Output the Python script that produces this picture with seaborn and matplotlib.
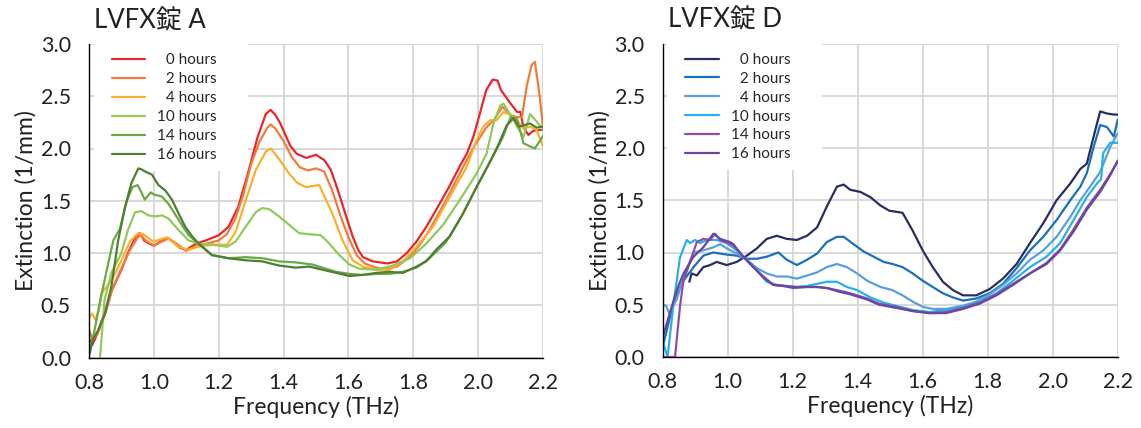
import numpy as np
import pandas as pd
import matplotlib
matplotlib.use("Agg")
import matplotlib.pyplot as plt
from matplotlib.ticker import MultipleLocator, FormatStrFormatter
from matplotlib.patches import Rectangle
import seaborn as sns

# ---- LVFX tablet A ----
A_0h_f = [0.80, 0.81, 0.825, 0.85, 0.87, 0.90, 0.92, 0.945, 0.958, 0.97, 0.985, 1.0, 1.02, 1.045, 1.065, 1.08, 1.10, 1.13, 1.16, 1.20, 1.23, 1.26, 1.29, 1.32, 1.345, 1.36, 1.375, 1.39, 1.42, 1.44, 1.47, 1.50, 1.525, 1.545, 1.56, 1.58, 1.595, 1.613, 1.63, 1.645, 1.675, 1.72, 1.75, 1.78, 1.81, 1.84, 1.87, 1.91, 1.945, 1.965, 1.985, 2.005, 2.025, 2.045, 2.06, 2.07, 2.10, 2.12, 2.13, 2.14, 2.155, 2.17, 2.20]
A_0h_e = [0.18, 0.12, 0.22, 0.42, 0.64, 0.84, 1.0, 1.16, 1.19, 1.12, 1.09, 1.07, 1.11, 1.14, 1.09, 1.05, 1.03, 1.09, 1.12, 1.17, 1.25, 1.44, 1.76, 2.11, 2.33, 2.37, 2.32, 2.24, 2.03, 1.95, 1.91, 1.94, 1.89, 1.80, 1.67, 1.48, 1.33, 1.16, 1.03, 0.96, 0.92, 0.90, 0.92, 1.0, 1.11, 1.25, 1.41, 1.63, 1.84, 1.95, 2.11, 2.33, 2.56, 2.66, 2.65, 2.56, 2.43, 2.35, 2.35, 2.2, 2.13, 2.17, 2.18]

A_2h_f = [0.80, 0.81, 0.825, 0.85, 0.875, 0.90, 0.925, 0.95, 0.96, 0.975, 1.0, 1.025, 1.045, 1.07, 1.10, 1.125, 1.15, 1.20, 1.225, 1.25, 1.275, 1.30, 1.325, 1.35, 1.36, 1.375, 1.40, 1.425, 1.45, 1.475, 1.50, 1.525, 1.55, 1.575, 1.60, 1.625, 1.65, 1.675, 1.70, 1.725, 1.75, 1.775, 1.80, 1.825, 1.85, 1.875, 1.90, 1.925, 1.95, 1.975, 2.0, 2.025, 2.05, 2.075, 2.10, 2.12, 2.135, 2.15, 2.165, 2.175, 2.19, 2.20]
A_2h_e = [0.27, 0.17, 0.22, 0.45, 0.68, 0.85, 1.02, 1.15, 1.17, 1.12, 1.07, 1.11, 1.14, 1.09, 1.02, 1.06, 1.08, 1.12, 1.18, 1.32, 1.55, 1.85, 2.06, 2.2, 2.23, 2.19, 2.07, 1.92, 1.82, 1.79, 1.81, 1.78, 1.6, 1.36, 1.15, 0.98, 0.9, 0.87, 0.85, 0.85, 0.87, 0.93, 1.0, 1.1, 1.22, 1.36, 1.5, 1.65, 1.8, 1.95, 2.08, 2.2, 2.28, 2.4, 2.32, 2.3, 2.3, 2.6, 2.8, 2.83, 2.5, 2.2]

A_4h_f = [0.80, 0.81, 0.82, 0.83, 0.838, 0.87, 0.90, 0.926, 0.952, 0.967, 0.998, 1.02, 1.04, 1.076, 1.107, 1.138, 1.179, 1.226, 1.252, 1.283, 1.314, 1.345, 1.36, 1.386, 1.417, 1.443, 1.469, 1.51, 1.55, 1.582, 1.613, 1.644, 1.686, 1.727, 1.768, 1.81, 1.861, 1.913, 1.964, 1.995, 2.016, 2.037, 2.057, 2.078, 2.10, 2.12, 2.14, 2.16, 2.18, 2.20]
A_4h_e = [0.38, 0.42, 0.36, 0.45, 0.61, 0.74, 0.93, 1.11, 1.19, 1.18, 1.11, 1.13, 1.15, 1.06, 1.03, 1.06, 1.08, 1.08, 1.2, 1.5, 1.79, 1.97, 2.0, 1.9, 1.76, 1.67, 1.63, 1.65, 1.38, 1.12, 0.93, 0.87, 0.84, 0.84, 0.92, 1.06, 1.25, 1.54, 1.82, 2.08, 2.21, 2.27, 2.27, 2.35, 2.32, 2.27, 2.19, 2.21, 2.18, 2.02]

A_10h_f = [0.80, 0.834, 0.848, 0.869, 0.90, 0.92, 0.942, 0.962, 0.983, 1.004, 1.025, 1.045, 1.076, 1.107, 1.138, 1.179, 1.226, 1.252, 1.283, 1.314, 1.334, 1.355, 1.386, 1.417, 1.448, 1.479, 1.515, 1.541, 1.572, 1.603, 1.634, 1.686, 1.737, 1.79, 1.84, 1.892, 1.944, 1.995, 2.026, 2.047, 2.068, 2.078, 2.10, 2.12, 2.14, 2.16, 2.18, 2.20]
A_10h_e = [-0.6, 0.0, 0.55, 0.81, 1.0, 1.22, 1.39, 1.40, 1.36, 1.35, 1.36, 1.33, 1.22, 1.12, 1.09, 1.08, 1.06, 1.11, 1.25, 1.39, 1.43, 1.42, 1.35, 1.27, 1.19, 1.18, 1.17, 1.09, 0.98, 0.89, 0.85, 0.84, 0.88, 0.95, 1.09, 1.27, 1.51, 1.76, 1.95, 2.24, 2.41, 2.43, 2.32, 2.21, 2.11, 2.33, 2.26, 2.18]

A_14h_f = [0.80, 0.815, 0.835, 0.855, 0.875, 0.895, 0.917, 0.934, 0.95, 0.96, 0.972, 0.99, 1.0, 1.025, 1.045, 1.076, 1.107, 1.138, 1.179, 1.23, 1.283, 1.334, 1.386, 1.437, 1.489, 1.52, 1.562, 1.603, 1.644, 1.686, 1.727, 1.768, 1.81, 1.85, 1.90, 1.95, 2.0, 2.05, 2.075, 2.10, 2.12, 2.14, 2.16, 2.175, 2.20]
A_14h_e = [0.07, 0.23, 0.55, 0.84, 1.12, 1.23, 1.5, 1.63, 1.65, 1.59, 1.51, 1.58, 1.56, 1.54, 1.47, 1.32, 1.17, 1.09, 0.98, 0.95, 0.96, 0.95, 0.92, 0.91, 0.89, 0.86, 0.82, 0.8, 0.79, 0.8, 0.8, 0.82, 0.86, 0.95, 1.1, 1.36, 1.66, 1.95, 2.1, 2.3, 2.28, 2.05, 2.02, 2.0, 2.12]

A_16h_f = [0.80, 0.812, 0.828, 0.849, 0.869, 0.89, 0.911, 0.931, 0.952, 0.962, 0.973, 0.994, 1.014, 1.035, 1.056, 1.076, 1.097, 1.118, 1.138, 1.179, 1.23, 1.283, 1.334, 1.386, 1.437, 1.479, 1.52, 1.562, 1.603, 1.644, 1.686, 1.727, 1.768, 1.81, 1.84, 1.87, 1.913, 1.954, 1.995, 2.026, 2.057, 2.088, 2.109, 2.125, 2.14, 2.16, 2.18, 2.20]
A_16h_e = [0.01, 0.17, 0.26, 0.42, 0.68, 1.12, 1.44, 1.67, 1.81, 1.80, 1.78, 1.75, 1.65, 1.6, 1.51, 1.38, 1.25, 1.16, 1.09, 0.98, 0.95, 0.93, 0.92, 0.88, 0.86, 0.87, 0.84, 0.81, 0.78, 0.79, 0.81, 0.82, 0.81, 0.87, 0.92, 1.03, 1.16, 1.38, 1.63, 1.81, 2.0, 2.22, 2.29, 2.21, 2.22, 2.24, 2.2, 2.21]

# ---- LVFX tablet D ----
D_0h_f = [0.882, 0.889, 0.905, 0.925, 0.946, 0.966, 0.997, 1.028, 1.059, 1.09, 1.12, 1.151, 1.182, 1.213, 1.244, 1.275, 1.305, 1.336, 1.357, 1.377, 1.408, 1.439, 1.47, 1.497, 1.538, 1.569, 1.60, 1.631, 1.662, 1.693, 1.724, 1.765, 1.806, 1.847, 1.889, 1.93, 1.971, 2.012, 2.054, 2.085, 2.105, 2.126, 2.146, 2.167, 2.188, 2.20]
D_0h_e = [0.72, 0.80, 0.78, 0.86, 0.88, 0.91, 0.88, 0.91, 0.97, 1.04, 1.13, 1.16, 1.13, 1.12, 1.16, 1.24, 1.44, 1.63, 1.65, 1.6, 1.58, 1.53, 1.45, 1.4, 1.38, 1.21, 1.02, 0.86, 0.72, 0.64, 0.59, 0.59, 0.65, 0.75, 0.89, 1.09, 1.28, 1.5, 1.66, 1.8, 1.85, 2.11, 2.35, 2.33, 2.32, 2.32]

D_2h_f = [0.80, 0.82, 0.84, 0.864, 0.895, 0.925, 0.956, 0.997, 1.028, 1.059, 1.09, 1.12, 1.156, 1.182, 1.213, 1.244, 1.275, 1.305, 1.336, 1.357, 1.387, 1.418, 1.449, 1.48, 1.507, 1.538, 1.569, 1.60, 1.631, 1.662, 1.693, 1.724, 1.765, 1.806, 1.847, 1.889, 1.93, 1.971, 2.012, 2.054, 2.085, 2.105, 2.126, 2.146, 2.167, 2.188, 2.20]
D_2h_e = [0.1, 0.35, 0.58, 0.73, 0.86, 0.97, 1.0, 0.98, 0.97, 0.94, 0.94, 0.96, 1.0, 0.93, 0.88, 0.93, 0.99, 1.1, 1.15, 1.15, 1.08, 1.01, 0.96, 0.91, 0.89, 0.86, 0.8, 0.73, 0.67, 0.61, 0.57, 0.54, 0.56, 0.61, 0.7, 0.85, 1.02, 1.15, 1.31, 1.5, 1.63, 1.76, 2.01, 2.22, 2.2, 2.11, 2.27]

D_4h_f = [0.80, 0.81, 0.82, 0.843, 0.864, 0.895, 0.925, 0.956, 0.977, 0.997, 1.028, 1.059, 1.09, 1.12, 1.151, 1.182, 1.213, 1.244, 1.275, 1.305, 1.336, 1.367, 1.398, 1.429, 1.47, 1.507, 1.538, 1.569, 1.60, 1.631, 1.672, 1.724, 1.765, 1.806, 1.847, 1.889, 1.93, 1.971, 2.012, 2.054, 2.085, 2.115, 2.146, 2.177, 2.20]
D_4h_e = [0.5, 0.49, 0.42, 0.55, 0.75, 1.0, 1.02, 1.05, 1.08, 1.04, 0.99, 0.93, 0.85, 0.8, 0.77, 0.77, 0.75, 0.78, 0.81, 0.86, 0.89, 0.86, 0.8, 0.73, 0.67, 0.64, 0.59, 0.53, 0.48, 0.46, 0.46, 0.49, 0.53, 0.6, 0.69, 0.8, 0.93, 1.02, 1.15, 1.34, 1.5, 1.63, 1.77, 2.01, 2.14]

D_10h_f = [0.80, 0.815, 0.833, 0.853, 0.874, 0.884, 0.90, 0.915, 0.936, 0.966, 0.997, 1.028, 1.059, 1.09, 1.12, 1.151, 1.182, 1.213, 1.244, 1.275, 1.305, 1.336, 1.367, 1.398, 1.439, 1.48, 1.518, 1.569, 1.621, 1.672, 1.724, 1.775, 1.827, 1.878, 1.93, 1.981, 2.023, 2.064, 2.105, 2.136, 2.149, 2.155, 2.177, 2.20]
D_10h_e = [0.15, 0.0, 0.5, 0.95, 1.12, 1.09, 1.12, 1.09, 1.12, 1.12, 1.09, 1.02, 0.93, 0.83, 0.72, 0.69, 0.68, 0.67, 0.68, 0.7, 0.72, 0.72, 0.67, 0.64, 0.57, 0.52, 0.49, 0.45, 0.43, 0.45, 0.48, 0.53, 0.61, 0.73, 0.86, 0.96, 1.09, 1.31, 1.53, 1.66, 1.7, 1.95, 2.05, 2.05]

D_14h_f = [0.80, 0.838, 0.843, 0.853, 0.864, 0.884, 0.905, 0.925, 0.946, 0.961, 0.977, 1.017, 1.048, 1.079, 1.11, 1.14, 1.171, 1.202, 1.244, 1.275, 1.305, 1.336, 1.377, 1.429, 1.466, 1.518, 1.569, 1.621, 1.672, 1.724, 1.775, 1.827, 1.878, 1.93, 1.981, 2.023, 2.064, 2.105, 2.146, 2.177, 2.20]
D_14h_e = [0.0, 0.0, 0.16, 0.48, 0.73, 0.91, 1.1, 1.13, 1.12, 1.18, 1.12, 1.07, 0.96, 0.86, 0.77, 0.69, 0.68, 0.66, 0.67, 0.67, 0.66, 0.64, 0.61, 0.56, 0.51, 0.48, 0.44, 0.42, 0.43, 0.47, 0.52, 0.6, 0.7, 0.8, 0.9, 1.03, 1.22, 1.43, 1.6, 1.75, 1.87]

D_16h_f = [0.80, 0.843, 0.864, 0.895, 0.925, 0.956, 0.977, 1.007, 1.017, 1.048, 1.079, 1.11, 1.14, 1.171, 1.202, 1.244, 1.275, 1.305, 1.336, 1.377, 1.429, 1.466, 1.518, 1.569, 1.621, 1.672, 1.724, 1.775, 1.827, 1.878, 1.93, 1.981, 2.023, 2.064, 2.105, 2.146, 2.177, 2.20]
D_16h_e = [0.19, 0.64, 0.8, 0.96, 1.05, 1.18, 1.13, 1.1, 1.08, 0.96, 0.86, 0.76, 0.69, 0.68, 0.67, 0.67, 0.67, 0.66, 0.63, 0.6, 0.55, 0.5, 0.47, 0.44, 0.42, 0.42, 0.46, 0.51, 0.59, 0.69, 0.8, 0.89, 1.02, 1.2, 1.41, 1.58, 1.74, 1.88]

labels = ["\u20070 hours", "\u20072 hours", "\u20074 hours", "10 hours", "14 hours", "16 hours"]
A_series = [(A_0h_f, A_0h_e), (A_2h_f, A_2h_e), (A_4h_f, A_4h_e),
            (A_10h_f, A_10h_e), (A_14h_f, A_14h_e), (A_16h_f, A_16h_e)]
D_series = [(D_0h_f, D_0h_e), (D_2h_f, D_2h_e), (D_4h_f, D_4h_e),
            (D_10h_f, D_10h_e), (D_14h_f, D_14h_e), (D_16h_f, D_16h_e)]
A_colors = ["#e8262b", "#f07c3c", "#fbb12c", "#8fca5b", "#69a946", "#4f7e35"]
D_colors = ["#272f5f", "#1b70bb", "#5b9fd9", "#28b1e7", "#8b4fa6", "#6a46a0"]
titles = ["LVFX錠 A", "LVFX錠 D"]


def to_frame(series):
    rows = []
    for lab, (f, e) in zip(labels, series):
        for xi, yi in zip(f, e):
            rows.append({"Frequency": xi, "Extinction": yi, "time": lab})
    return pd.DataFrame(rows)


sns.set_theme(style="white")
plt.rcParams["font.family"] = ["Lato", "Noto Sans CJK JP", "DejaVu Sans"]

fig = plt.figure(figsize=(11.41, 4.28), dpi=100)
ax1 = fig.add_axes([89 / 1141, 1 - 357.5 / 428, 454 / 1141, 313.5 / 428])
ax2 = fig.add_axes([662.7 / 1141, 1 - 357 / 428, 455 / 1141, 313.5 / 428])

for ax, series, colors, title in zip([ax1, ax2], [A_series, D_series],
                                     [A_colors, D_colors], titles):
    df = to_frame(series)
    sns.lineplot(data=df, x="Frequency", y="Extinction", hue="time",
                 hue_order=labels, palette=colors, estimator=None,
                 linewidth=1.6, ax=ax)
    ax.set_xlim(0.8, 2.2)
    ax.set_ylim(0, 3.0)
    ax.xaxis.set_major_locator(MultipleLocator(0.2))
    ax.xaxis.set_minor_locator(MultipleLocator(0.1))
    ax.yaxis.set_major_locator(MultipleLocator(0.5))
    ax.yaxis.set_minor_locator(MultipleLocator(0.1))
    ax.xaxis.set_major_formatter(FormatStrFormatter("%.1f"))
    ax.yaxis.set_major_formatter(FormatStrFormatter("%.1f"))
    ax.set_axisbelow(True)
    ax.grid(True, which="major", color="#d6d6d6", linewidth=1.3)
    for s in ["top", "right"]:
        ax.spines[s].set_visible(False)
    for s in ["left", "bottom"]:
        ax.spines[s].set_color("black")
        ax.spines[s].set_linewidth(1.0)
    ax.tick_params(which="both", direction="in", length=5, width=1,
                   color="black", labelsize=15.5, labelcolor="#222222")
    ax.tick_params(axis="y", pad=13)
    ax.tick_params(axis="x", pad=11)
    ax.set_xlabel("Frequency (THz)", fontsize=16.5, labelpad=2, color="#222222")
    ax.set_ylabel("Extinction (1/mm)", fontsize=16.5, labelpad=3, color="#222222")
    ax.text(0.012, 1.05, title, transform=ax.transAxes, fontsize=18.5,
            ha="left", va="baseline", color="#222222")

    # white legend area covering the grid
    ax.add_patch(Rectangle((0.01, 0.595), 0.34, 0.41, transform=ax.transAxes,
                           facecolor="white", edgecolor="none", zorder=1,
                           clip_on=False))
    h, l = ax.get_legend_handles_labels()
    ax.legend(h, l, loc="upper left", bbox_to_anchor=(0.05, 0.97),
              frameon=False, fontsize=11, handlelength=2.2,
              handletextpad=0.75, labelspacing=0.32, borderpad=0,
              borderaxespad=0)

fig.savefig("out.png", dpi=100)
